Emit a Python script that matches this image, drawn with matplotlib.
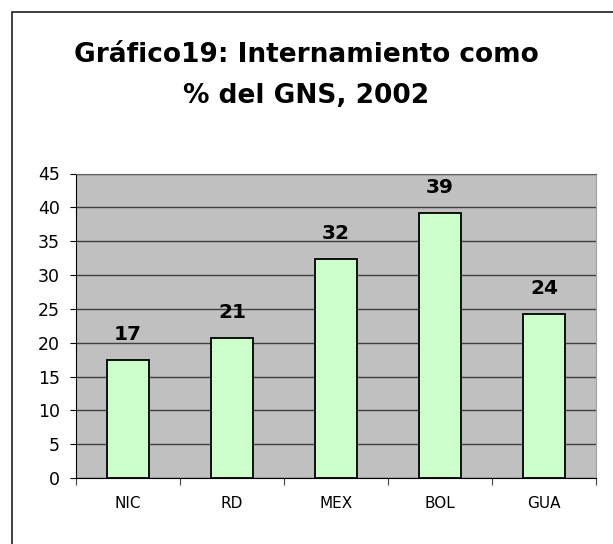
import matplotlib
matplotlib.use("Agg")
import matplotlib.pyplot as plt
from matplotlib.patches import Rectangle

plt.rcParams['font.family'] = ['DejaVu Sans']

# data
paises = ['NIC', 'RD', 'MEX', 'BOL', 'GUA']
valores = [17.4, 20.7, 32.3, 39.1, 24.3]
etiquetas = ['17', '21', '32', '39', '24']

fig = plt.figure(figsize=(6.13, 5.44), dpi=100)

# outer chart frame (only left/top are visible in the original)
fig.patches.append(Rectangle((12 / 613, -0.1), 1.2, 1 - 12 / 544 + 0.1,
                             transform=fig.transFigure, fill=False,
                             edgecolor='#202020', linewidth=1.2))

fig.text(0.5, 1 - 62 / 544, 'Gráfico19: Internamiento como', ha='center', va='baseline',
         fontsize=19, fontweight='bold')
fig.text(0.5, 1 - 103 / 544, '% del GNS, 2002', ha='center', va='baseline',
         fontsize=19, fontweight='bold')

ax = fig.add_axes([76 / 613, 1 - 478 / 544, 520 / 613, 304.5 / 544])
ax.set_facecolor('#C0C0C0')

x = range(len(paises))
ax.bar(x, valores, width=0.41, color='#CCFFCC', edgecolor='black', linewidth=1.3, zorder=3)
for i, (v, t) in enumerate(zip(valores, etiquetas)):
    ax.text(i, v + 2.95, t, ha='center', va='baseline', fontsize=14.5, fontweight='bold', zorder=4)

ax.set_xlim(-0.5, len(paises) - 0.5)
ax.set_ylim(0, 45)
ax.set_yticks(range(0, 46, 5))
ax.yaxis.grid(True, color='#404040', linewidth=1, zorder=1)
ax.set_axisbelow(True)

ax.set_xticks([i + 0.5 for i in range(-1, len(paises))])
ax.set_xticklabels([])
ax.set_xticks(list(x), minor=True)
ax.set_xticklabels(paises, minor=True)
ax.tick_params(axis='x', which='major', direction='out', length=5, width=0.8, color='#404040')
ax.tick_params(axis='x', which='minor', length=0, pad=13, labelsize=11)
ax.tick_params(axis='y', direction='out', length=4.5, width=0.8, labelsize=12.5, pad=7)

ax.spines['top'].set_color('#606060')
ax.spines['right'].set_color('#A0A0A0')
ax.spines['right'].set_linewidth(0.8)
ax.spines['left'].set_color('black')
ax.spines['bottom'].set_color('black')

fig.savefig('out.png', dpi=100)
